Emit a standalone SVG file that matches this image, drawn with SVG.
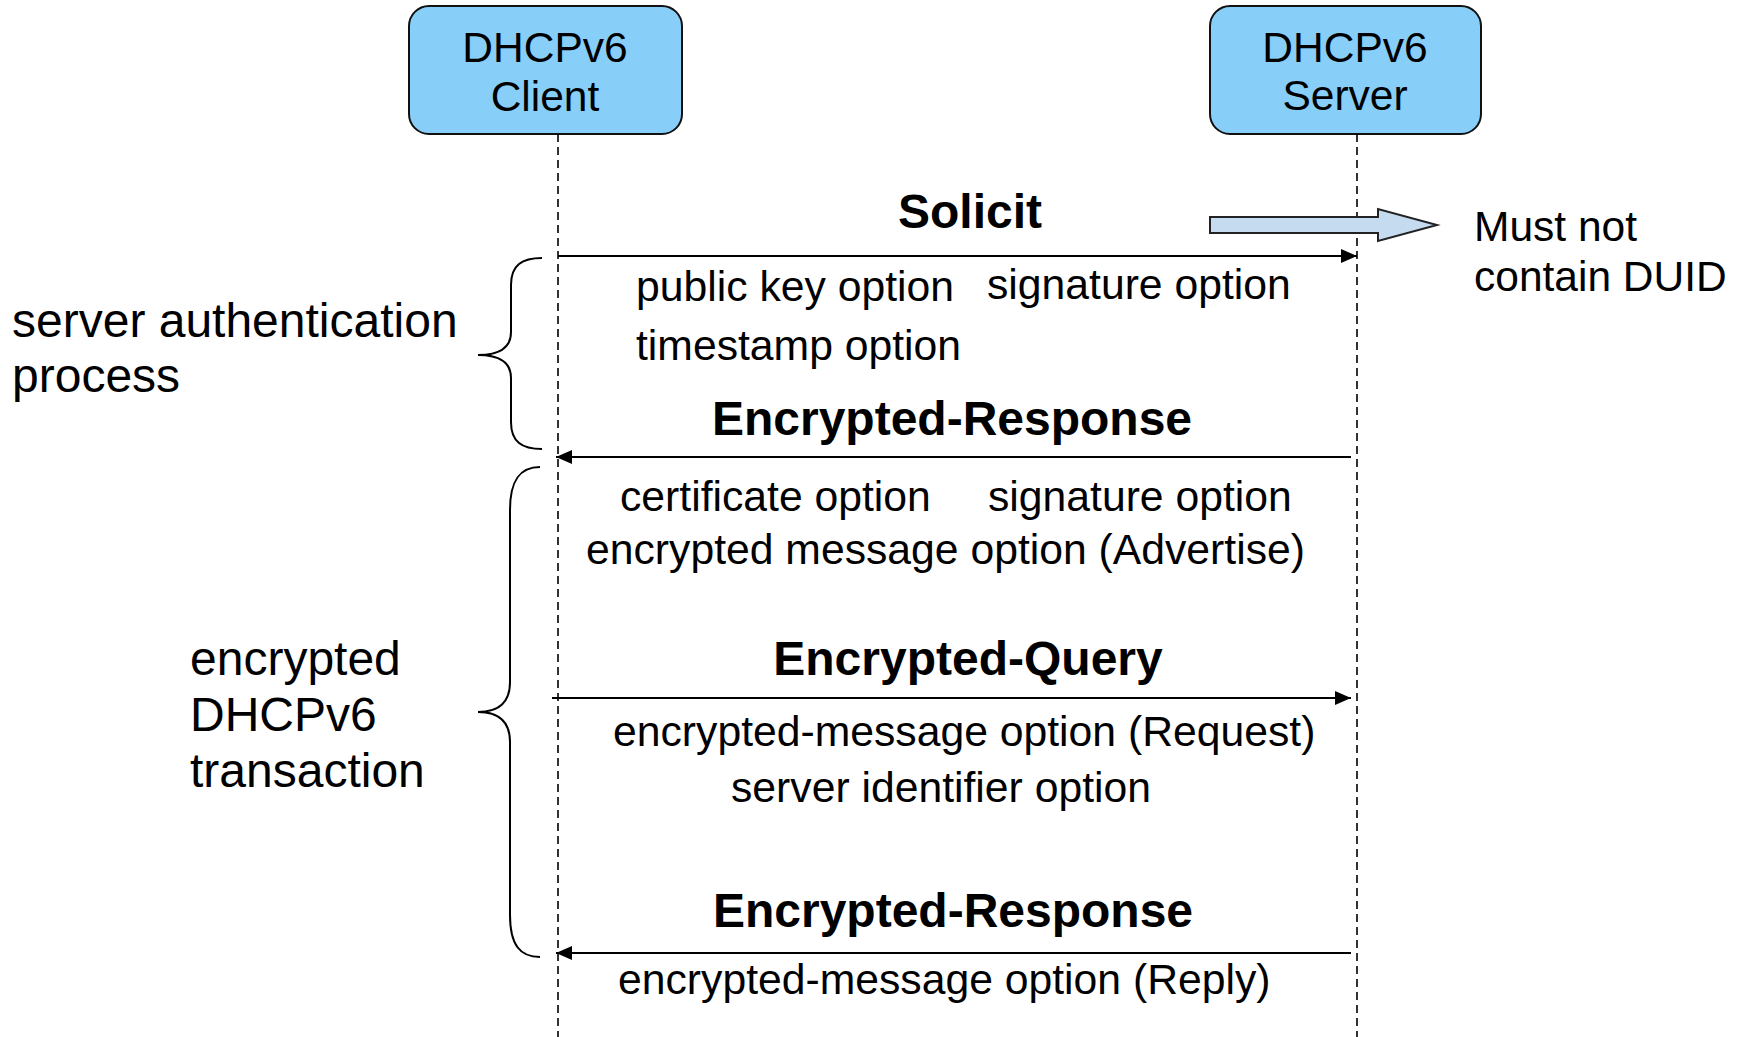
<svg xmlns="http://www.w3.org/2000/svg" width="1744" height="1037" viewBox="0 0 1744 1037">
  <defs>
    <marker id="ah" markerUnits="userSpaceOnUse" markerWidth="18" markerHeight="16" refX="16" refY="7" orient="auto">
      <path d="M0,0 L16,7 L0,14 Z" fill="#000"/>
    </marker>
    <style>
      text { font-family: "Liberation Sans", Arial, sans-serif; fill: #000; }
      .box { fill: #87CEF8; stroke: #111; stroke-width: 2; }
      .lbl { font-size: 42.5px; text-anchor: middle; }
      .t { font-size: 42.7px; }
      .n { font-size: 42.5px; }
      .b { font-size: 48px; font-weight: bold; text-anchor: middle; }
      .side { font-size: 48px; }
      .life { stroke: #000; stroke-width: 1.6; stroke-dasharray: 8 5; fill: none; }
      .msg { stroke: #000; stroke-width: 2; fill: none; marker-end: url(#ah); }
      .brace { stroke: #000; stroke-width: 2; fill: none; }
    </style>
  </defs>
  <rect width="1744" height="1037" fill="#fff"/>

  <g id="client">
    <rect class="box" x="409" y="6" width="273" height="128" rx="20" ry="20"/>
    <text class="lbl" x="545" y="62">DHCPv6</text>
    <text class="lbl" x="545" y="111">Client</text>
  </g>
  <g id="server">
    <rect class="box" x="1210" y="6" width="271" height="128" rx="20" ry="20"/>
    <text class="lbl" x="1345" y="62">DHCPv6</text>
    <text class="lbl" x="1345" y="110">Server</text>
  </g>

  <g id="lifelines">
    <line class="life" x1="558" y1="134" x2="558" y2="1037"/>
    <line class="life" x1="1357" y1="134" x2="1357" y2="1037"/>
  </g>

  <g id="connectors">
    <line class="msg" x1="558" y1="256" x2="1357" y2="256"/>
    <line class="msg" x1="1351" y1="457" x2="556" y2="457"/>
    <line class="msg" x1="552" y1="698" x2="1351" y2="698"/>
    <line class="msg" x1="1351" y1="953" x2="556" y2="953"/>
  </g>

  <g id="note-arrow">
    <path d="M1210,217 L1378,217 L1378,209 L1437,225 L1378,241 L1378,233 L1210,233 Z" fill="#C5DCF0" stroke="#222" stroke-width="2"/>
    <text class="n" x="1474" y="241">Must not</text>
    <text class="n" x="1474" y="291">contain DUID</text>
  </g>

  <g id="labels">
    <text class="b" x="970" y="228">Solicit</text>
    <text class="t" x="636" y="301">public key option</text>
    <text class="t" x="987" y="299">signature option</text>
    <text class="t" x="636" y="360">timestamp option</text>
    <text class="b" x="952" y="435">Encrypted-Response</text>
    <text class="t" x="620" y="511">certificate option</text>
    <text class="t" x="988" y="511">signature option</text>
    <text class="t" x="586" y="564">encrypted message option (Advertise)</text>
    <text class="b" x="968" y="675">Encrypted-Query</text>
    <text class="t" x="613" y="746">encrypted-message option (Request)</text>
    <text class="t" x="731" y="802">server identifier option</text>
    <text class="b" x="953" y="927">Encrypted-Response</text>
    <text class="t" x="618" y="994">encrypted-message option (Reply)</text>
  </g>

  <g id="group-auth">
    <path class="brace" d="M542,258 C522,258 511,265 511,285 L511,332 C511,348 500,355 478,355 C500,355 511,362 511,378 L511,422 C511,442 522,449 542,449"/>
    <text class="side" x="12" y="337">server authentication</text>
    <text class="side" x="12" y="392">process</text>
  </g>
  <g id="group-transaction">
    <path class="brace" d="M540,467 C520,467 510,480 510,510 L510,682 C510,702 500,712 478,712 C500,712 510,722 510,742 L510,915 C510,945 520,957 540,957"/>
    <text class="side" x="190" y="675">encrypted</text>
    <text class="side" x="190" y="731">DHCPv6</text>
    <text class="side" x="190" y="787">transaction</text>
  </g>
</svg>
